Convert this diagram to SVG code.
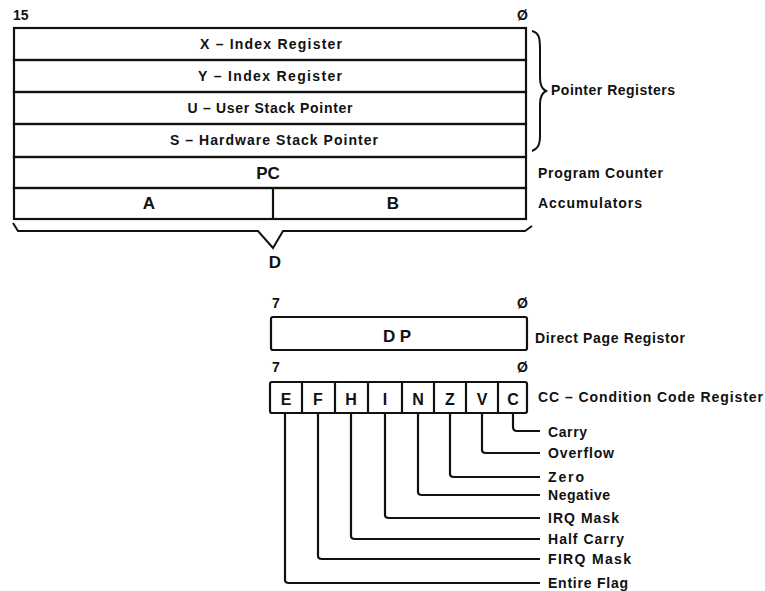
<svg xmlns="http://www.w3.org/2000/svg" width="765" height="591" viewBox="0 0 765 591">
<style>
text{font-family:"Liberation Sans",Arial,sans-serif;font-weight:bold;fill:#111}
.t{font-size:14px}
.c{text-anchor:middle}
.big{font-size:17px;font-weight:bold}
.cell{font-size:16px;text-anchor:middle}
.box{fill:none;stroke:#111;stroke-width:2.2}
.ln{stroke:#111;stroke-width:2;fill:none}
.fl{stroke:#111;stroke-width:2.2;fill:none;stroke-linejoin:round}
</style>
<rect width="765" height="591" fill="#fff"/>
<g id="bits16">
<text class="t" x="13" y="20">15</text>
<text class="t" x="517" y="20">Ø</text>
</g>
<g id="reg-x">
<rect class="box" x="14" y="28" width="512" height="32"/>
<text class="t c" x="271" y="49" textLength="142" lengthAdjust="spacing">X – Index Register</text>
</g>
<g id="reg-y">
<rect class="box" x="14" y="60" width="512" height="32"/>
<text class="t c" x="270" y="81" textLength="144" lengthAdjust="spacing">Y – Index Register</text>
</g>
<g id="reg-u">
<rect class="box" x="14" y="92" width="512" height="32"/>
<text class="t c" x="270" y="113" textLength="165" lengthAdjust="spacing">U – User Stack Pointer</text>
</g>
<g id="reg-s">
<rect class="box" x="14" y="124" width="512" height="33"/>
<text class="t c" x="274" y="145" textLength="208" lengthAdjust="spacing">S – Hardware Stack Pointer</text>
</g>
<g id="reg-pc">
<rect class="box" x="14" y="157" width="512" height="31"/>
<text class="big c" x="268" y="179">PC</text>
</g>
<g id="reg-ab">
<rect class="box" x="14" y="188" width="512" height="31"/>
<line class="box" x1="273" y1="188" x2="273" y2="219"/>
<text class="big c" x="149" y="209">A</text>
<text class="big c" x="393" y="209">B</text>
</g>
<g id="labels-top">
<text class="t" x="551" y="95" textLength="124" lengthAdjust="spacing">Pointer Registers</text>
<text class="t" x="538" y="178" textLength="125" lengthAdjust="spacing">Program Counter</text>
<text class="t" x="538" y="208" textLength="104" lengthAdjust="spacing">Accumulators</text>
<text class="big c" x="275" y="268">D</text>
</g>
<g id="reg-dp">
<text class="t" x="272" y="308">7</text>
<text class="t" x="517" y="308">Ø</text>
<rect class="box" x="271" y="317" width="256" height="33" rx="2"/>
<text class="big c" x="397" y="342" textLength="28" lengthAdjust="spacing">DP</text>
<text class="t" x="535" y="343" textLength="150" lengthAdjust="spacing">Direct Page Registor</text>
</g>
<g id="reg-cc">
<text class="t" x="272" y="372">7</text>
<text class="t" x="517" y="372">Ø</text>
<rect class="box" x="270" y="382" width="257" height="31" rx="2"/>
<g class="box">
<line x1="302" y1="382" x2="302" y2="413"/>
<line x1="335" y1="382" x2="335" y2="413"/>
<line x1="368" y1="382" x2="368" y2="413"/>
<line x1="402" y1="382" x2="402" y2="413"/>
<line x1="434" y1="382" x2="434" y2="413"/>
<line x1="466" y1="382" x2="466" y2="413"/>
<line x1="498" y1="382" x2="498" y2="413"/>
</g>
<text class="cell" x="286" y="405">E</text>
<text class="cell" x="318" y="405">F</text>
<text class="cell" x="351" y="405">H</text>
<text class="cell" x="385" y="405">I</text>
<text class="cell" x="418" y="405">N</text>
<text class="cell" x="450" y="405">Z</text>
<text class="cell" x="482" y="405">V</text>
<text class="cell" x="513" y="405">C</text>
<text class="t" x="538" y="402" textLength="225" lengthAdjust="spacing">CC – Condition Code Register</text>
</g>
<g id="flags">
<text class="t" x="548" y="437" textLength="39" lengthAdjust="spacing">Carry</text>
<text class="t" x="548" y="458" textLength="66" lengthAdjust="spacing">Overflow</text>
<text class="t" x="548" y="482" textLength="36" lengthAdjust="spacing">Zero</text>
<text class="t" x="548" y="500" textLength="62" lengthAdjust="spacing">Negative</text>
<text class="t" x="548" y="523" textLength="71" lengthAdjust="spacing">IRQ Mask</text>
<text class="t" x="548" y="544" textLength="76" lengthAdjust="spacing">Half Carry</text>
<text class="t" x="548" y="564" textLength="83" lengthAdjust="spacing">FIRQ Mask</text>
<text class="t" x="548" y="588" textLength="80" lengthAdjust="spacing">Entire Flag</text>
</g>
<g id="connectors">
<path class="ln" d="M532,31 C540,33 540,40 540,50 L540,78 C540,86 542,89 546,91 C542,93 540,96 540,104 L540,136 C540,146 537,149 532,151"/>
<path class="ln" d="M13,223 L18,231 L258,231 L273,248 L283,231 L525,231 L532,226"/>
<path class="fl" d="M513,413 V427 Q513,431 517,431 H540"/>
<path class="fl" d="M482,413 V450 Q482,453 486,453 H540"/>
<path class="fl" d="M450,413 V474 Q450,477 454,477 H540"/>
<path class="fl" d="M418,413 V492 Q418,495 422,495 H540"/>
<path class="fl" d="M385,413 V515 Q385,518 389,518 H540"/>
<path class="fl" d="M351,413 V536 Q351,539 355,539 H540"/>
<path class="fl" d="M318,413 V556 Q318,559 322,559 H540"/>
<path class="fl" d="M285,413 V580 Q285,583 289,583 H540"/>
</g>
</svg>
